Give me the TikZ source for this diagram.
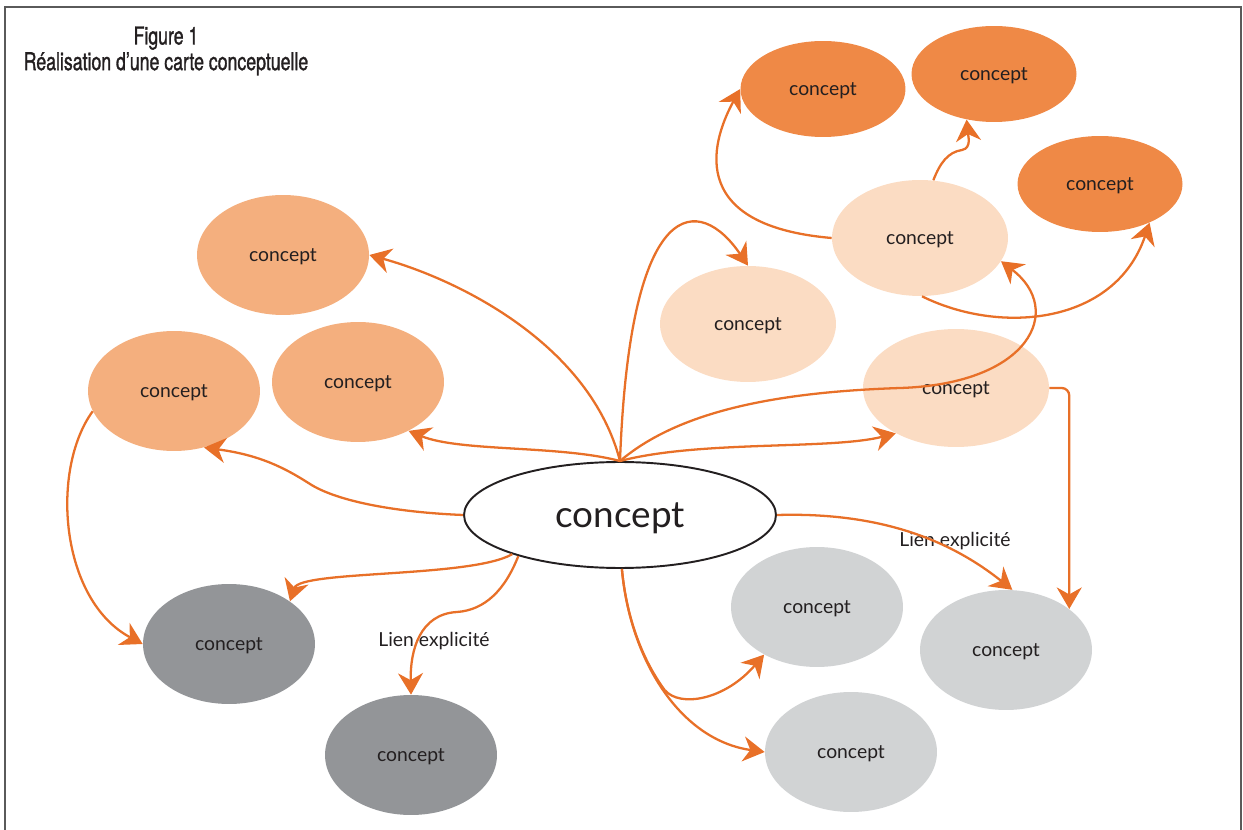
\documentclass[tikz,border=0pt]{standalone}
\usepackage{fontspec}
\setmainfont{Lato}
\newfontfamily\titlefont[FakeStretch=0.72, FakeBold=1.2]{TeX Gyre Heros}
\usetikzlibrary{shapes.geometric,arrows.meta}
\definecolor{orangedark}{RGB}{239,137,70}
\definecolor{orangemid}{RGB}{244,175,126}
\definecolor{orangepale}{RGB}{251,220,195}
\definecolor{graydark}{RGB}{147,149,152}
\definecolor{graylight}{RGB}{209,211,212}
\definecolor{linkcol}{RGB}{232,112,40}
\definecolor{inkcol}{RGB}{35,31,32}
\definecolor{framecol}{RGB}{90,90,90}

\begin{document}
\begin{tikzpicture}[x=0.02cm, y=0.02cm,
    cpt/.style={ellipse, inner sep=0pt, text depth=0pt, minimum width=3.44cm, minimum height=2.4cm,
      text=inkcol, font=\fontsize{11}{13}\selectfont},
    cptpeach/.style={cpt, fill=orangepale, minimum width=3.52cm, minimum height=2.32cm},
    cptdark/.style={cpt, fill=orangedark, minimum width=3.3cm, minimum height=1.92cm},
    maincpt/.style={ellipse, inner sep=0pt, text depth=0pt, draw=inkcol, line width=1.1pt, fill=white,
      minimum width=6.24cm, minimum height=2.12cm, text=inkcol, font=\fontsize{21}{24}\selectfont},
    link/.style={draw=linkcol, line width=1.3pt,
      -{Stealth[length=0.43cm, width=0.5cm, inset=0.14cm]}},
    lien/.style={text=inkcol, font=\fontsize{11}{13}\selectfont},
    titletxt/.style={align=center, text=inkcol, font=\titlefont\fontsize{14}{14.6}\selectfont}]
  \useasboundingbox (0,0) rectangle (1243,-830);
  \draw[framecol, line width=0.8pt] (5,-830) -- (5,-7) -- (1241,-7) -- (1241,-830);

  \node[titletxt] (title) at (166,-51) {Figure 1\\Réalisation d’une carte conceptuelle};

  % concepts
  \node[maincpt] (c) at (620,-515) {concept};
  \node[cpt, fill=orangemid] (m1) at (283,-255) {concept};
  \node[cpt, fill=orangemid] (m2) at (358,-382) {concept};
  \node[cpt, fill=orangemid] (m3) at (174,-391) {concept};
  \node[cpt, fill=graydark] (g1) at (229,-644) {concept};
  \node[cpt, fill=graydark] (g2) at (411,-755) {concept};
  \node[cpt, fill=graylight] (l1) at (817,-607) {concept};
  \node[cpt, fill=graylight] (l2) at (1006,-650) {concept};
  \node[cpt, fill=graylight] (l3) at (851,-752) {concept};
  \node[cptpeach] (p1) at (920,-238) {concept};
  \node[cptpeach] (p2) at (748,-324) {concept};
  \node[cptpeach, minimum width=3.72cm, minimum height=2.36cm] (p3) at (956,-388) {concept};
  \node[cptdark] (d1) at (823,-89) {concept};
  \node[cptdark] (d2) at (994,-74) {concept};
  \node[cptdark] (d3) at (1100,-184) {concept};

  \node[lien] (lien1) at (434,-641) {Lien explicité};
  \node[lien] (lien2) at (955,-541) {Lien explicité};

  % links
  \draw[link] (c.north) .. controls (590,-345) and (460,-280) .. (m1.east);
  \draw[link] (c.north) .. controls (630,-190) and (700,-195) .. (p2.north);
  \draw[link] (c.north) .. controls (680,-410) and (780,-392) .. (900,-388)
    .. controls (1030,-384) and (1065,-310) .. (p1.-16);
  \draw[link] (c.north) .. controls (700,-440) and (830,-450) .. (p3.217);
  \draw[link] (c.north) .. controls (560,-445) and (460,-452) .. (m2.-44);
  \draw[link] (c.west) .. controls (390,-512) and (335,-500) .. (310,-484)
    .. controls (285,-468) and (260,-455) .. (m3.-62);
  \draw[link] (c.200) .. controls (470,-578) and (300,-570) .. (g1.35);
  \draw[link] (c.202) .. controls (505,-590) and (485,-610) .. (457,-612)
    .. controls (420,-614) and (410,-650) .. (g2.north);
  \draw[link] (m3.194) .. controls (50,-470) and (60,-600) .. (g1.west);
  \draw[link] (c.-88) .. controls (630,-660) and (680,-740) .. (l3.west);
  \draw[link] (c.-88) .. controls (626,-614) and (640.5,-657) .. (664.6,-690)
    .. controls (680,-708) and (725,-700) .. (l1.222);
  \draw[link] (c.east) .. controls (880,-512) and (950,-540) .. (l2.84);
  \draw[link, rounded corners=0.15cm] (p3.east) -| (l2.33);
  \draw[link] (p1.west) .. controls (680,-225) and (715,-135) .. (d1.west);
  \draw[link] (p1.77) .. controls (940,-163) and (948,-152) .. (962,-150)
    .. controls (972,-148) and (968,-135) .. (d2.239);
  \draw[link] (p1.-88) .. controls (1000,-335) and (1115,-325) .. (d3.-38);
\end{tikzpicture}
\end{document}
